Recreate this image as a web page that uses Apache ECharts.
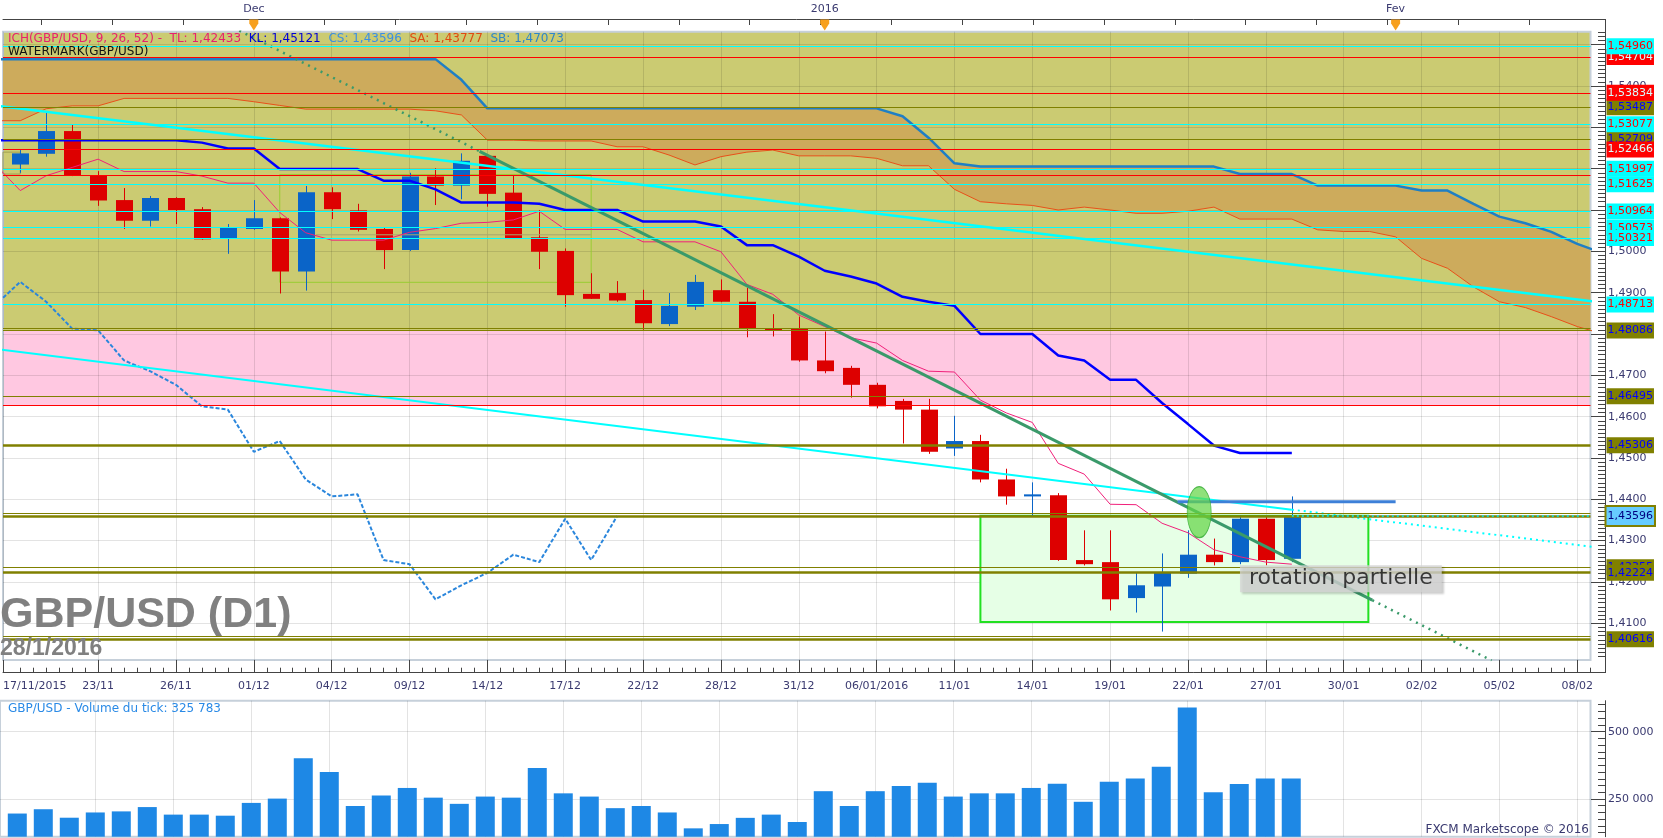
<!DOCTYPE html>
<html>
<head>
<meta charset="utf-8">
<title>GBP/USD (D1)</title>
<script src="https://cdn.jsdelivr.net/npm/echarts@6/dist/echarts.min.js"></script>
<style>
html,body{margin:0;padding:0;background:#ffffff;}
#chart{width:1663px;height:838px;}
</style>
</head>
<body>
<div id="chart"></div>
<script>
// ---------------- DATA ----------------
// bar index: 1 = 18/11/2015 ... 50 = 28/01/2016 (trading days), 51.. = calendar days ahead
const tickLabels = ['17/11/2015','23/11','26/11','01/12','04/12','09/12','14/12','17/12','22/12','28/12','31/12',
  '06/01/2016','11/01','14/01','19/01','22/01','27/01','30/01','02/02','05/02','08/02'];
const monthLabels = ['Dec','2016','Fev'];
const monthIdx = [10, 32, 54];

const barOpen = [1.5210,1.5236,1.5291,1.5184,1.5124,1.5074,1.5129,1.5102,1.5032,1.5054,
  1.5080,1.4951,1.5143,1.5099,1.5054,1.5003,1.5181,1.5159,1.5231,1.5142,
  1.5034,1.5001,1.4897,1.4899,1.4882,1.4824,1.4866,1.4906,1.4878,1.4812,
  1.4812,1.4736,1.4718,1.4677,1.4638,1.4617,1.4523,1.4541,1.4448,1.4407,
  1.4410,1.4253,1.4248,1.4161,1.4189,1.4220,1.4266,1.4248,1.4353,1.4256];
const barHigh = [1.5245,1.5335,1.5306,1.5194,1.5153,1.5134,1.5131,1.5107,1.5066,1.5124,
  1.5082,1.5158,1.5155,1.5115,1.5057,1.5190,1.5201,1.5237,1.5233,1.5183,
  1.5100,1.5007,1.4947,1.4928,1.4907,1.4899,1.4943,1.4932,1.4912,1.4848,
  1.4842,1.4806,1.4723,1.4682,1.4643,1.4643,1.4602,1.4556,1.4474,1.4441,
  1.4415,1.4325,1.4325,1.4222,1.4269,1.4325,1.4305,1.4361,1.4358,1.4407];
const barLow = [1.5190,1.5229,1.5182,1.5110,1.5054,1.5060,1.5066,1.5028,1.4994,1.5052,
  1.4898,1.4905,1.5078,1.5048,1.4957,1.5001,1.5112,1.5126,1.5108,1.5030,
  1.4957,1.4866,1.4885,1.4878,1.4810,1.4819,1.4858,1.4877,1.4792,1.4794,
  1.4733,1.4705,1.4646,1.4620,1.4535,1.4510,1.4505,1.4441,1.4387,1.4358,
  1.4251,1.4240,1.4131,1.4126,1.4080,1.4210,1.4240,1.4243,1.4240,1.4248];
const barClose = [1.5237,1.5291,1.5184,1.5123,1.5074,1.5129,1.5100,1.5029,1.5057,1.5080,
  1.4951,1.5143,1.5102,1.5052,1.5003,1.5181,1.5159,1.5219,1.5139,1.5032,
  1.4999,1.4894,1.4885,1.4881,1.4826,1.4868,1.4926,1.4878,1.4813,1.4809,
  1.4736,1.4710,1.4677,1.4625,1.4617,1.4515,1.4541,1.4448,1.4407,1.4412,
  1.4253,1.4243,1.4158,1.4192,1.4222,1.4266,1.4248,1.4353,1.4253,1.43596];
const barVolume = [196000,212000,180500,200000,204000,220000,192000,192000,188000,235500,
  251500,401000,350000,224000,263000,291000,255000,232000,259000,255000,
  365500,271000,259000,216000,224000,200000,141000,157000,180000,192000,
  164600,279000,224000,279000,298700,310500,259000,271000,271000,291000,
  306500,239600,314000,326000,369600,590000,275000,306000,326000,325783];

// Ichimoku lines, index 0..
const tenkan = [1.5212,1.5147,1.5183,1.5203,1.5223,1.5193,1.5193,1.5193,1.5182,1.5165,
  1.5165,1.5094,1.5045,1.5027,1.5027,1.5027,1.5046,1.5055,1.5068,1.5070,
  1.5076,1.5097,1.5053,1.5053,1.5053,1.5023,1.5023,1.5023,1.4999,1.4920,
  1.4896,1.4846,1.4818,1.4791,1.4778,1.4736,1.4710,1.4708,1.4640,1.4609,
  1.4586,1.4487,1.4461,1.4388,1.4387,1.4342,1.4319,1.4278,1.4261,1.4248,
  1.4243];
const kijun = [1.5269,1.5269,1.5269,1.5269,1.5269,1.5269,1.5269,1.5269,1.5263,1.5249,
  1.5249,1.5199,1.5199,1.5199,1.5199,1.5171,1.5171,1.5150,1.5118,1.5118,
  1.5118,1.5115,1.5100,1.5100,1.5100,1.5072,1.5072,1.5072,1.5060,1.5015,
  1.5015,1.4987,1.4953,1.4939,1.4922,1.4890,1.4878,1.4868,1.4800,1.4800,
  1.4800,1.4748,1.4736,1.4689,1.4689,1.4633,1.4582,1.4530,1.4512,1.4512,
  1.4512];
const senkouA = [1.5316,1.5316,1.5345,1.5352,1.5352,1.5370,1.5370,1.5370,1.5370,1.5370,
  1.5362,1.5353,1.5344,1.5344,1.5344,1.5344,1.5344,1.5340,1.5330,1.5269,
  1.5269,1.5267,1.5267,1.5267,1.5253,1.5253,1.5233,1.5209,1.5229,1.5240,
  1.5245,1.5231,1.5231,1.5231,1.5225,1.5207,1.5207,1.5150,1.5120,1.5115,
  1.5111,1.5100,1.5107,1.5100,1.5092,1.5092,1.5097,1.5107,1.5078,1.5078,
  1.5078,1.5052,1.5048,1.5048,1.5035,1.4983,1.4959,1.4914,1.4878,1.4864,
  1.4842,1.4818,1.4800];
const senkouB = [1.5465,1.5465,1.5465,1.5465,1.5465,1.5465,1.5465,1.5465,1.5465,1.5465,
  1.5465,1.5465,1.5465,1.5465,1.5465,1.5465,1.5465,1.5465,1.5415,1.5346,
  1.5346,1.5346,1.5346,1.5346,1.5346,1.5346,1.5346,1.5346,1.5346,1.5346,
  1.5346,1.5346,1.5346,1.5346,1.5346,1.5327,1.5275,1.5213,1.5205,1.5205,
  1.5205,1.5205,1.5205,1.5205,1.5205,1.5205,1.5205,1.5205,1.5187,1.5187,
  1.5187,1.5159,1.5159,1.5159,1.5159,1.5147,1.5147,1.5115,1.5084,1.5068,
  1.5047,1.5018,1.4995];

// horizontal levels
const cyanLevels = [1.54960,1.53077,1.51997,1.51625,1.50964,1.50573,1.50321,1.48713];
const redLevels = [1.54704,1.53834,1.52466,1.51840,1.46282];
const oliveLevels = [1.53487,1.52709,1.48138,1.48086,1.46495,1.45306,1.43662,1.43580,1.42355,1.42224,1.40676,1.40616];
const unlabelledLevels = [1.51840,1.46282,1.48138,1.43662,1.43580,1.40676];
const currentPrice = 1.43596;
const currentFrom = 50;

// background zones [low, high]
const oliveZone = [1.4808, 1.55314];
const pinkZone = [1.46282, 1.4808];

// drawn trend lines [index, price]
const cyanUpper = [[0, 1.5353], [62, 1.4876]];
const cyanLowerSolid = [[0, 1.4764], [50, 1.4375]];
const cyanLowerDotted = [[50, 1.4375], [62, 1.4282]];
const greenDotted1 = [[9.44, 1.5534], [18.7, 1.5242]];
const greenSolid = [[18.7, 1.5242], [53.1, 1.4156]];
const greenDotted2 = [[53.1, 1.4156], [57.7, 1.4010]];
const resistLine = [[45.6, 1.4394], [54, 1.4394]];
const boxMidLine = [[12.4, 1.5040], [23.0, 1.5040]];
const bigBox = [[38.0, 1.4360], [52.95, 1.4103]];
const thinBox = [[11.0, 1.5186], [23.0, 1.4925]];
const smallBox = [[0, 1.5240], [1.0, 1.5187]];
const ellipsePoint = [46.43, 1.4369];
const notePoint = [51.89, 1.4208];
const noteText = 'rotation partielle';

const legendVals = {TL: '1,42433', KL: '1,45121', CS: '1,43596', SA: '1,43777', SB: '1,47073'};
const volumeTitle = 'GBP/USD - Volume du tick: 325 783';

// ---------------- CHART ----------------
const FONT = 'DejaVu Sans';
const AXIS_TXT = '#3a3a70';
const C_RED = '#dd0000', C_BLUE = '#0a64c8';
const xMin = 0.335, xMax = 61.51;
const pMin = 1.40112, pMax = 1.55314;
const vMin = 110000, vMax = 615000;

const priceMajor = []; for (let k = 141; k <= 155; k++) priceMajor.push(k / 100);
const priceMinor = []; for (let k = 1402; k <= 1553; k++) if (k % 10) priceMinor.push(k / 1000);
const xMajor = [xMin]; for (let i = 4; i <= 61; i += 3) xMajor.push(i);
const xMinor = []; for (let i = 1; i <= 61.5; i += 0.5) if (xMajor.indexOf(i) < 0) xMinor.push(i);
const topTicks = []; for (let t = 10 - 2.73 * 3; t < xMax; t += 2.73) topTicks.push(t);
const volMajor = [250000, 500000];
const volMinor = []; for (let v = 125000; v <= 600000; v += 25000) if (v % 250000) volMinor.push(v);

const fmt5 = p => p.toFixed(5).replace('.', ',');
const fmtVol = v => String(Math.round(v)).replace(/\B(?=(\d{3})+(?!\d))/g, ' ');

function levelItem(p, color, bg, txt) {
  const heavy = [1.45306, 1.43580, 1.42224, 1.40616].indexOf(p) >= 0;
  const show = unlabelledLevels.indexOf(p) < 0;
  return {
    yAxis: p,
    lineStyle: {color: color, width: heavy ? 2.5 : 1.2, type: 'solid'},
    label: show ? {show: true, position: 'end', distance: 16, formatter: fmt5(p),
      backgroundColor: bg, color: txt, padding: [2, 1, 1, 1], fontSize: 11, fontFamily: FONT, lineHeight: 13}
      : {show: false}
  };
}
const desc = arr => arr.slice().sort((a, b) => b - a);
const levelData = []
  .concat(desc(oliveLevels).map(p => levelItem(p, '#808000', '#808000', '#0000ff')))
  .concat(desc(redLevels).map(p => levelItem(p, '#ff0000', '#ff0000', '#d8ffff')))
  .concat(desc(cyanLevels).map(p => levelItem(p, '#00ffff', '#00ffff', '#ff0000')));
levelData.push([
  {coord: [currentFrom, currentPrice], lineStyle: {color: '#00e8ff', width: 1.5, type: [2, 3]},
   label: {show: true, position: 'end', distance: 16, formatter: fmt5(currentPrice),
     backgroundColor: '#66ccff', borderColor: '#808000', borderWidth: 2, color: '#000080',
     padding: [3, 1, 2, 1], fontSize: 11, fontFamily: FONT, lineHeight: 13}},
  {coord: [xMax, currentPrice]}
]);

function renderCandle(params, api) {
  const x = api.value(0), o = api.value(1), c = api.value(2), lo = api.value(3), hi = api.value(4);
  const pO = api.coord([x, o]), pC = api.coord([x, c]), pL = api.coord([x, lo]), pH = api.coord([x, hi]);
  const col = c >= o ? C_BLUE : C_RED;
  const w = 17;
  const top = Math.min(pO[1], pC[1]);
  const h = Math.max(1.5, Math.abs(pO[1] - pC[1]));
  const xc = Math.round(pO[0]) + 0.5;
  return {type: 'group', children: [
    {type: 'line', shape: {x1: xc, y1: pH[1], x2: xc, y2: pL[1]}, style: {stroke: col, lineWidth: 1}},
    {type: 'rect', shape: {x: xc - w / 2, y: top, width: w, height: h}, style: {fill: col}}
  ]};
}

function renderCloud(params, api) {
  const upper = senkouB.map((v, k) => api.coord([k, v]));
  const lower = senkouA.map((v, k) => api.coord([k, v])).reverse();
  const cs = params.coordSys;
  return {type: 'polygon', shape: {points: upper.concat(lower)}, style: {fill: '#cdab5c'},
    clipPath: {type: 'rect', shape: {x: cs.x, y: cs.y, width: cs.width, height: cs.height}}};
}

const pts = arr => arr.map((v, k) => [k, v]);
function seg(data, color, width, type, z) {
  return {type: 'line', xAxisIndex: 0, yAxisIndex: 0, data: data, symbol: 'none', silent: true,
    lineStyle: {color: color, width: width, type: type || 'solid'}, z: z || 3, animation: false};
}

const gridLineCol = 'rgba(0,0,0,0.11)';

const option = {
  animation: false,
  backgroundColor: '#ffffff',
  grid: [
    {left: 0, right: 72.5, top: 31.7, bottom: 178, show: true, borderColor: '#c6d0da', borderWidth: 2, backgroundColor: 'transparent'},
    {left: 0, right: 72.5, top: 700.7, bottom: 1.3, show: true, borderColor: '#c6d0da', borderWidth: 2, backgroundColor: 'transparent'}
  ],
  xAxis: [
    {gridIndex: 0, type: 'value', min: xMin, max: xMax, position: 'bottom', offset: 12.7,
      axisLine: {show: true, onZero: false, lineStyle: {color: '#444', width: 1}},
      axisTick: {show: true, inside: true, length: 12.7, customValues: xMajor, lineStyle: {color: '#444'}},
      axisLabel: {show: true, customValues: xMajor, margin: 8, color: AXIS_TXT, fontSize: 11, fontFamily: FONT,
        alignMinLabel: 'left',
        formatter: v => (v < 1 ? tickLabels[0] : tickLabels[Math.round((v - 1) / 3)])},
      splitLine: {show: true, lineStyle: {color: gridLineCol, width: 1}}},
    {gridIndex: 0, type: 'value', min: xMin, max: xMax, position: 'bottom', offset: 12.7,
      axisLine: {show: false, onZero: false},
      axisTick: {show: true, inside: true, length: 5, customValues: xMinor, lineStyle: {color: '#444'}},
      axisLabel: {show: false}, splitLine: {show: false}},
    {gridIndex: 0, type: 'value', min: xMin, max: xMax, position: 'top', offset: 12.7,
      axisLine: {show: true, onZero: false, lineStyle: {color: '#444', width: 1}},
      axisTick: {show: true, inside: true, length: 6, customValues: topTicks, lineStyle: {color: '#444'}},
      axisLabel: {show: true, customValues: monthIdx, margin: 4, color: AXIS_TXT, fontSize: 11, fontFamily: FONT,
        formatter: v => monthLabels[monthIdx.indexOf(Math.round(v))] || ''},
      splitLine: {show: false}},
    {gridIndex: 1, type: 'value', min: xMin, max: xMax, position: 'bottom',
      axisLine: {show: false, onZero: false},
      axisTick: {show: false, customValues: xMajor.slice(1)},
      axisLabel: {show: false},
      splitLine: {show: true, lineStyle: {color: gridLineCol, width: 1}}}
  ],
  yAxis: [
    {gridIndex: 0, type: 'value', min: pMin, max: pMax, position: 'right', offset: 14.5,
      axisLine: {show: true, onZero: false, lineStyle: {color: '#444', width: 1}},
      axisTick: {show: true, inside: true, length: 14, customValues: priceMajor, lineStyle: {color: '#444'}},
      axisLabel: {show: true, customValues: priceMajor, margin: 3, color: AXIS_TXT, fontSize: 11, fontFamily: FONT,
        formatter: v => v.toFixed(4).replace('.', ',')},
      splitLine: {show: true, lineStyle: {color: gridLineCol, width: 1}}},
    {gridIndex: 0, type: 'value', min: pMin, max: pMax, position: 'right', offset: 14.5,
      axisLine: {show: false, onZero: false},
      axisTick: {show: true, inside: true, length: 7, customValues: priceMinor, lineStyle: {color: '#444'}},
      axisLabel: {show: false}, splitLine: {show: false}},
    {gridIndex: 1, type: 'value', min: vMin, max: vMax, position: 'right', offset: 14.5,
      axisLine: {show: true, onZero: false, lineStyle: {color: '#444', width: 1}},
      axisTick: {show: true, inside: true, length: 14, customValues: volMajor, lineStyle: {color: '#444'}},
      axisLabel: {show: true, customValues: volMajor, margin: 3, color: AXIS_TXT, fontSize: 11, fontFamily: FONT,
        formatter: fmtVol},
      splitLine: {show: true, lineStyle: {color: gridLineCol, width: 1}}},
    {gridIndex: 1, type: 'value', min: vMin, max: vMax, position: 'right', offset: 14.5,
      axisLine: {show: false, onZero: false},
      axisTick: {show: true, inside: true, length: 7, customValues: volMinor, lineStyle: {color: '#444'}},
      axisLabel: {show: false}, splitLine: {show: false}}
  ],
  series: [
    // kumo cloud
    {type: 'custom', name: 'kumo', xAxisIndex: 0, yAxisIndex: 0, silent: true, z: 2,
      encode: {x: 0, y: 1}, data: [[0, senkouB[0]]], renderItem: renderCloud},
    // candles
    {type: 'custom', name: 'GBP/USD', xAxisIndex: 0, yAxisIndex: 0, silent: true, z: 3,
      dimensions: ['i', 'open', 'close', 'low', 'high'],
      encode: {x: 0, y: [1, 2, 3, 4]},
      data: barOpen.map((o, k) => [k + 1, o, barClose[k], barLow[k], barHigh[k]]),
      renderItem: renderCandle},
    seg(boxMidLine, '#a8a870', 1, 'solid', 3),
    // Ichimoku
    seg(pts(senkouB), '#1f7fc4', 2.5, 'solid', 4),
    Object.assign(seg(pts(senkouA), '#e8501a', 1, 'solid', 4), {
      markArea: {silent: true, z: -1, precision: 5, data: [
        [{yAxis: oliveZone[0], itemStyle: {color: '#cbcb72'}}, {yAxis: oliveZone[1]}],
        [{yAxis: pinkZone[0], itemStyle: {color: '#ffc8e1'}}, {yAxis: pinkZone[1]}]
      ]}}),
    seg(barClose.slice(25).map((v, k) => [k, v]), '#2a86dc', 2, [4, 2], 4),
    Object.assign(seg(pts(tenkan), '#f0207a', 1, 'solid', 4), {
      markArea: {silent: true, z: 1, precision: 5, data: [
        [{coord: bigBox[0], itemStyle: {color: '#e6ffe6', borderColor: '#22e022', borderWidth: 2}}, {coord: bigBox[1]}],
        [{coord: thinBox[0], itemStyle: {color: 'rgba(0,0,0,0)', borderColor: '#99cc33', borderWidth: 1}}, {coord: thinBox[1]}],
        [{coord: smallBox[0], itemStyle: {color: 'rgba(0,0,0,0)', borderColor: '#a0a050', borderWidth: 1}}, {coord: smallBox[1]}]
      ]}}),
    Object.assign(seg(pts(kijun), '#0000ff', 2.5, 'solid', 4), {clip: false,
      markLine: {silent: true, precision: 6, symbol: ['none', 'none'], animation: false, data: levelData}}),
    // trend lines
    seg(cyanUpper, '#00ffff', 2.5, 'solid', 4),
    seg(cyanLowerSolid, '#00ffff', 2, 'solid', 4),
    seg(cyanLowerDotted, '#00ffff', 2, [2, 4], 4),
    seg(greenDotted1, '#3a9a6a', 2.5, [2, 5], 4),
    seg(greenSolid, '#3a9a6a', 3, 'solid', 4),
    seg(greenDotted2, '#3a9a6a', 2.5, [2, 5], 4),
    seg(resistLine, '#3d80d8', 3, 'solid', 4),
    {type: 'scatter', xAxisIndex: 0, yAxisIndex: 0, data: [ellipsePoint], symbol: 'circle', symbolSize: [24, 51],
      silent: true, z: 5, itemStyle: {color: 'rgba(100,214,70,0.9)', borderColor: '#2fa82f', borderWidth: 1}},
    {type: 'scatter', xAxisIndex: 0, yAxisIndex: 0, data: [notePoint], symbol: 'rect', symbolSize: 1,
      silent: true, z: 10, itemStyle: {color: 'rgba(0,0,0,0)'},
      label: {show: true, position: 'inside', formatter: noteText, color: '#111', fontSize: 22, fontFamily: FONT,
        lineHeight: 24, backgroundColor: '#d4d4d4', padding: [2, 9, 1, 9],
        shadowColor: 'rgba(0,0,0,0.25)', shadowOffsetX: 2, shadowOffsetY: 2, shadowBlur: 2}},
    // volume
    {type: 'bar', name: 'Volume', xAxisIndex: 3, yAxisIndex: 2, barWidth: 19, silent: true,
      data: barVolume.map((v, k) => [k + 1, v]), itemStyle: {color: '#1e88e5'}}
  ]
};

const chart = echarts.init(document.getElementById('chart'));
chart.setOption(option);

const g = [
  {type: 'text', left: 8, top: 33, z: 30, silent: true, style: {
    text: '{a|ICH(GBP/USD, 9, 26, 52) -  TL: ' + legendVals.TL + '}  {b|KL: ' + legendVals.KL + '}  {c|CS: ' + legendVals.CS +
      '}  {d|SA: ' + legendVals.SA + '}  {e|SB: ' + legendVals.SB + '}',
    font: '12px "DejaVu Sans"', fill: '#000',
    rich: {a: {fill: '#e8206e', color: '#e8206e'}, b: {fill: '#0000d8', color: '#0000d8'}, c: {fill: '#3a8ee6', color: '#3a8ee6'},
      d: {fill: '#e04a10', color: '#e04a10'}, e: {fill: '#2f86c8', color: '#2f86c8'}}}},
  {type: 'text', left: 8, top: 45.5, z: 30, silent: true, style: {text: 'WATERMARK(GBP/USD)', font: '12px "DejaVu Sans"', fill: '#111'}},
  {type: 'text', left: 0, top: 594, z: 30, silent: true, style: {text: 'GBP/USD (D1)', font: 'bold 43px "Liberation Sans"', fill: '#808080'}},
  {type: 'text', left: 0, top: 637.5, z: 30, silent: true, style: {text: '28/1/2016', font: 'bold 23px "Liberation Sans"', fill: '#808080'}},
  {type: 'text', left: 8, top: 703, z: 30, silent: true, style: {text: volumeTitle, font: '12px "DejaVu Sans"', fill: '#2a8ae6'}},
  {type: 'text', right: 74, top: 824, z: 30, silent: true, style: {text: 'FXCM Marketscope \u00a9 2016', font: '12px "DejaVu Sans"', fill: AXIS_TXT}},
  {type: 'line', z: 30, silent: true, shape: {x1: 1590, y1: 19.5, x2: 1605.5, y2: 19.5}, style: {stroke: '#444', lineWidth: 1}},
  {type: 'line', z: 30, silent: true, shape: {x1: 1605.5, y1: 19, x2: 1605.5, y2: 32}, style: {stroke: '#444', lineWidth: 1}},
  {type: 'line', z: 30, silent: true, shape: {x1: 1605.5, y1: 659, x2: 1605.5, y2: 673}, style: {stroke: '#444', lineWidth: 1}},
  {type: 'line', z: 30, silent: true, shape: {x1: 1590, y1: 672.5, x2: 1605.5, y2: 672.5}, style: {stroke: '#444', lineWidth: 1}}
];
monthIdx.forEach(v => {
  const x = chart.convertToPixel({xAxisIndex: 2}, v);
  g.push({type: 'polygon', z: 31, silent: true,
    shape: {points: [[x - 4.5, 19.5], [x + 4.5, 19.5], [x + 4.5, 23.5], [x, 30.5], [x - 4.5, 23.5]]},
    style: {fill: '#f7a01e'}});
});
chart.setOption({graphic: {elements: g}});
</script>
</body>
</html>
